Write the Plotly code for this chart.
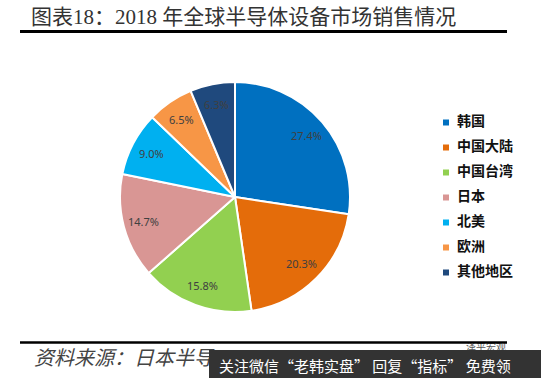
import math
import plotly.graph_objects as go

W, H = 541, 378
categories = ["韩国", "中国大陆", "中国台湾", "日本", "北美", "欧洲", "其他地区"]
values = [27.4, 20.3, 15.8, 14.7, 9.0, 6.5, 6.3]
colors = ["#0070C0", "#E46C0A", "#92D050", "#D99694", "#00B0F0", "#F79646", "#1F497D"]
title = "图表18\uff1a2018 年全球半导体设备市场销售情况"
source = "资料来源\uff1a日本半导"
banner = "关注微信“老韩实盘” 回复“指标” 免费领"
brand = "泽平宏观"

CJK = "Liberation Serif, Noto Sans CJK SC"
SANS = "Noto Sans CJK SC"

def px(x): return x / W
def py(y): return 1 - y / H

# pie box in pixels
L, R, T, B = 120, 350, 82, 312

fig = go.Figure()
fig.add_trace(go.Pie(
    labels=categories, values=values, sort=False, direction="clockwise", rotation=0,
    marker=dict(colors=colors, line=dict(color="white", width=2)),
    textinfo="none", hoverinfo="label+percent", showlegend=False,
    domain=dict(x=[px(L), px(R)], y=[py(B), py(T)]),
))

# legend column
idx = list(range(len(categories)))
fig.add_trace(go.Scatter(
    x=[4] * len(idx), y=idx, mode="markers",
    marker=dict(symbol="square", size=6, color=colors),
    xaxis="x2", yaxis="y2", showlegend=False, hoverinfo="skip",
))
fig.add_trace(go.Scatter(
    x=[15] * len(idx), y=idx, mode="text", text=categories, textposition="middle right",
    textfont=dict(size=14, color="#111111", family=SANS, weight="bold"),
    xaxis="x2", yaxis="y2", showlegend=False, hoverinfo="skip",
))
# texts partly hidden by the banner rectangle above them
fig.add_trace(go.Scatter(
    x=[506], y=[348], mode="text", text=[brand], textposition="middle left",
    textfont=dict(size=10, color="#555555", family=SANS),
    xaxis="x3", yaxis="y3", showlegend=False, hoverinfo="skip",
))
fig.add_trace(go.Scatter(
    x=[34], y=[360], mode="text", text=[source], textposition="middle right",
    textfont=dict(size=20, color="#444444", family=SANS, style="italic"),
    xaxis="x3", yaxis="y3", showlegend=False, hoverinfo="skip",
))

hidden = dict(visible=False, fixedrange=True)
annotations = [
    dict(text=title, xref="paper", yref="paper", x=px(29), y=py(17), xanchor="left", yanchor="middle",
         showarrow=False, font=dict(size=21, color="#333333", family=CJK)),
    dict(text=banner, xref="paper", yref="paper", x=px(217), y=py(365), xanchor="left", yanchor="middle",
         showarrow=False, font=dict(size=15, color="white", family=SANS)),
]

# percent labels, placed from the values at a fixed share of the radius
total = sum(values)
cum = 0
for v in values:
    a = 2 * math.pi * (cum + v / 2) / total
    annotations.append(dict(
        text=f"{v:.1f}%", xref="x", yref="y", x=0.82 * math.sin(a), y=0.82 * math.cos(a),
        showarrow=False, font=dict(size=11, color="#404040", family="Noto Sans, Liberation Sans"),
    ))
    cum += v

fig.update_layout(
    width=W, height=H, margin=dict(l=0, r=0, t=0, b=0),
    paper_bgcolor="white", plot_bgcolor="rgba(0,0,0,0)",
    xaxis=dict(hidden, domain=[px(L), px(R)], range=[-1, 1]),
    yaxis=dict(hidden, domain=[py(B), py(T)], range=[-1, 1]),
    xaxis2=dict(hidden, domain=[px(442), px(535)], range=[0, 93], anchor="y2"),
    yaxis2=dict(hidden, domain=[py(285), py(110)], range=[6.5, -0.5], anchor="x2"),
    xaxis3=dict(hidden, domain=[0, 1], range=[0, W], anchor="y3"),
    yaxis3=dict(hidden, domain=[0, 1], range=[H, 0], anchor="x3"),
    shapes=[
        dict(type="line", xref="paper", yref="paper", x0=px(20), x1=px(507), y0=py(31.5), y1=py(31.5),
             line=dict(color="black", width=3)),
        dict(type="line", xref="paper", yref="paper", x0=px(20), x1=px(507), y0=py(342.5), y1=py(342.5),
             line=dict(color="black", width=2.5)),
        dict(type="rect", xref="paper", yref="paper", x0=px(209), x1=1, y0=0, y1=py(350),
             fillcolor="#333333", line=dict(width=0), layer="above"),
    ],
    annotations=annotations,
)

fig.write_html("out.html", config=dict(displayModeBar=False),
               post_script="document.body.style.margin='0';document.body.style.overflow='hidden';")
